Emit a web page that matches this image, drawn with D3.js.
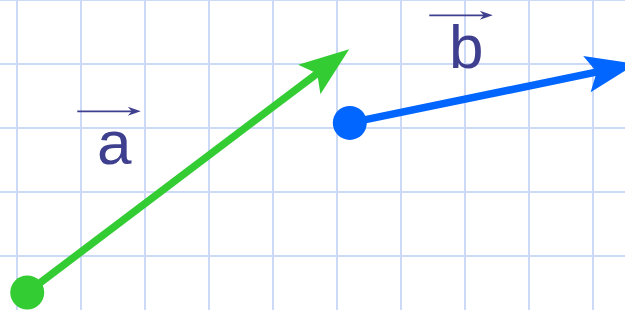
<!DOCTYPE html>
<html><head><meta charset="utf-8">
<script src="https://cdn.jsdelivr.net/npm/d3@7"></script>
<style>html,body{margin:0;padding:0;background:#fff;overflow:hidden}</style>
</head><body>
<script>
// grid lines (in grid units)
const gridXs = [0,1,2,3,4,5,6,7,8,9];
const gridYs = [-1,0,1,2,3,4];
// vectors (grid units, y upward)
const vectorNames = ["a","b"];
const startX = [0.16, 5.20];
const startY = [-0.57, 2.08];
const endX   = [5.19, 9.67];
const endY   = [3.23, 3.00];
const vectorColors = ["#33cc33","#0066ff"];
// labels (grid units: glyph centre x, baseline y)
const labelX = [1.52, 7.02];
const labelY = [1.44, 2.94];

const W = 625, H = 310;
const x = d3.scaleLinear().domain([0,1]).range([17,81]);
const y = d3.scaleLinear().domain([0,1]).range([256,192]);

const svg = d3.select("body").append("svg").attr("width",W).attr("height",H)
  .style("display","block");
svg.append("rect").attr("width",W).attr("height",H).attr("fill","#fff");

const grid = svg.append("g").attr("stroke","#ccd9f7").attr("stroke-width",2);
grid.selectAll("line.v").data(gridXs).join("line").attr("class","v")
  .attr("x1",d=>x(d)).attr("x2",d=>x(d)).attr("y1",0).attr("y2",H);
grid.selectAll("line.h").data(gridYs).join("line").attr("class","h")
  .attr("y1",d=>y(d)).attr("y2",d=>y(d)).attr("x1",0).attr("x2",W);

const vecs = vectorNames.map((n,i)=>({n, x0:x(startX[i]), y0:y(startY[i]), x1:x(endX[i]), y1:y(endY[i]), c:vectorColors[i], lx:x(labelX[i]), ly:y(labelY[i])}));

const HL = 50, HW = 18.5, NOTCH = 40;
vecs.forEach(v=>{
  const dx = v.x1-v.x0, dy = v.y1-v.y0, L = Math.hypot(dx,dy);
  const ux = dx/L, uy = dy/L, px = -uy, py = ux;
  const bx = v.x1-ux*HL, by = v.y1-uy*HL;
  const nx = v.x1-ux*NOTCH, ny = v.y1-uy*NOTCH;
  svg.append("line").attr("x1",v.x0).attr("y1",v.y0).attr("x2",nx+ux*2).attr("y2",ny+uy*2)
    .attr("stroke",v.c).attr("stroke-width",7.5);
  svg.append("path").attr("fill",v.c)
    .attr("d",`M${v.x1},${v.y1}L${bx+px*HW},${by+py*HW}L${nx},${ny}L${bx-px*HW},${by-py*HW}Z`);
  svg.append("circle").attr("cx",v.x0).attr("cy",v.y0).attr("r",17).attr("fill",v.c);
});

const textColor = "#3f3f8f";
vecs.forEach(v=>{
  svg.append("text").attr("x",v.lx).attr("y",v.ly).attr("text-anchor","middle")
    .attr("font-family","Liberation Sans, Arial, sans-serif").attr("font-size",62)
    .attr("fill",textColor).text(v.n);
  const ax0 = v.lx-37, ax1 = v.lx+26.5, ay = v.ly-52.5;
  svg.append("line").attr("x1",ax0).attr("x2",ax1-8).attr("y1",ay).attr("y2",ay)
    .attr("stroke",textColor).attr("stroke-width",1.8);
  svg.append("path").attr("fill",textColor)
    .attr("d",`M${ax1},${ay}L${ax1-13},${ay-4.5}L${ax1-9},${ay}L${ax1-13},${ay+4.5}Z`);
});
</script>
</body></html>
